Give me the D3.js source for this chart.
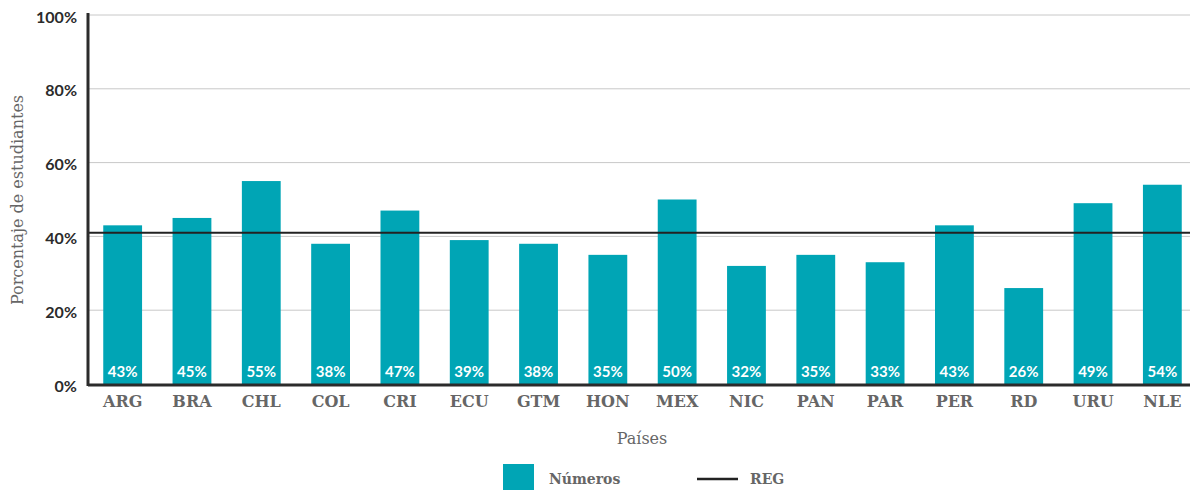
<!DOCTYPE html>
<html lang="es">
  <head>
    <meta charset="UTF-8">
    <title>Porcentaje de estudiantes por país</title>
    <script src="https://d3js.org/d3.v7.min.js"></script>
    <style>
      body { margin: 0; background: #fff; }
      svg { display: block; }
    </style>
  </head>
  <body>

<script>
  const countries = ["ARG","BRA","CHL","COL","CRI","ECU","GTM","HON","MEX","NIC","PAN","PAR","PER","RD","URU","NLE"];
  const values = [43, 45, 55, 38, 47, 39, 38, 35, 50, 32, 35, 33, 43, 26, 49, 54];
  const regValue = 41;
  const yTicks = [0, 20, 40, 60, 80, 100];

  const w = 1190;
  const h = 490;
  const plotLeft = 88, plotRight = 1197, plotTop = 15, plotBottom = 384;
  const barColor = "#00a5b5";

  const xScale = d3.scaleBand()
                   .domain(countries)
                   .range([plotLeft, plotRight])
                   .paddingInner(0.44)
                   .paddingOuter(0.22);

  const yScale = d3.scaleLinear()
                   .domain([0, 100])
                   .range([plotBottom, plotTop]);

  const svg = d3.select("body")
                .append("svg")
                .attr("width", w)
                .attr("height", h);

  // gridlines
  svg.append("g")
     .selectAll("line")
     .data(yTicks.filter(d => d > 0))
     .enter()
     .append("line")
     .attr("x1", plotLeft)
     .attr("x2", w)
     .attr("y1", d => yScale(d))
     .attr("y2", d => yScale(d))
     .attr("stroke", "#c8c8c8")
     .attr("stroke-width", 1);

  // y tick labels
  const yAxis = d3.axisLeft(yScale)
                  .tickValues(yTicks)
                  .tickFormat(d => d + "%")
                  .tickSize(0)
                  .tickPadding(11);
  const gy = svg.append("g")
     .attr("transform", `translate(${plotLeft},2)`)
     .call(yAxis);
  gy.select(".domain").remove();
  gy.selectAll("text")
    .attr("font-family", "Lato, sans-serif")
    .attr("font-weight", "bold")
    .attr("font-size", 16)
    .attr("fill", "#2b2b2b");

  // bars
  svg.selectAll("rect.bar")
     .data(values)
     .enter()
     .append("rect")
     .attr("class", "bar")
     .attr("x", (d, i) => xScale(countries[i]))
     .attr("y", d => yScale(d))
     .attr("width", xScale.bandwidth())
     .attr("height", d => yScale(0) - yScale(d))
     .attr("fill", barColor);

  // value labels
  svg.selectAll("text.val")
     .data(values)
     .enter()
     .append("text")
     .attr("class", "val")
     .attr("x", (d, i) => xScale(countries[i]) + xScale.bandwidth() / 2)
     .attr("y", yScale(0) - 7)
     .attr("text-anchor", "middle")
     .attr("font-family", "Lato, sans-serif")
     .attr("font-weight", "bold")
     .attr("font-size", 15)
     .attr("fill", "#fff")
     .text(d => d + "%");

  // REG line
  svg.append("line")
     .attr("x1", plotLeft)
     .attr("x2", w)
     .attr("y1", yScale(regValue))
     .attr("y2", yScale(regValue))
     .attr("stroke", "#222")
     .attr("stroke-width", 2);

  // x axis
  const xAxis = d3.axisBottom(xScale).tickSize(0).tickPadding(12);
  const gx = svg.append("g")
     .attr("transform", `translate(0,${plotBottom})`)
     .call(xAxis);
  gx.select(".domain").remove();
  gx.selectAll("text")
    .attr("font-family", "'DejaVu Serif', serif")
    .attr("font-weight", "bold")
    .attr("font-size", 16)
    .attr("fill", "#666");

  // axis lines
  svg.append("line")
     .attr("x1", plotLeft).attr("x2", w)
     .attr("y1", plotBottom + 1).attr("y2", plotBottom + 1)
     .attr("stroke", "#2b2b2b").attr("stroke-width", 3);
  svg.append("line")
     .attr("x1", plotLeft).attr("x2", plotLeft)
     .attr("y1", plotTop - 2).attr("y2", plotBottom + 2)
     .attr("stroke", "#2b2b2b").attr("stroke-width", 3);

  // axis titles
  svg.append("text")
     .attr("x", 642).attr("y", 444)
     .attr("text-anchor", "middle")
     .attr("font-family", "'DejaVu Serif', serif")
     .attr("font-size", 16)
     .attr("fill", "#666")
     .text("Países");

  svg.append("text")
     .attr("transform", "translate(23,200) rotate(-90)")
     .attr("text-anchor", "middle")
     .attr("font-family", "'DejaVu Serif', serif")
     .attr("font-size", 16)
     .attr("fill", "#666")
     .text("Porcentaje de estudiantes");

  // legend
  const legend = svg.append("g");
  legend.append("rect")
        .attr("x", 503).attr("y", 464)
        .attr("width", 31).attr("height", 26)
        .attr("fill", barColor);
  legend.append("text")
        .attr("x", 549).attr("y", 484)
        .attr("font-family", "'DejaVu Serif', serif")
        .attr("font-weight", "bold")
        .attr("font-size", 14)
        .attr("fill", "#666")
        .text("Números");
  legend.append("line")
        .attr("x1", 697).attr("x2", 738)
        .attr("y1", 479).attr("y2", 479)
        .attr("stroke", "#222").attr("stroke-width", 2.5);
  legend.append("text")
        .attr("x", 750).attr("y", 484)
        .attr("font-family", "'DejaVu Serif', serif")
        .attr("font-weight", "bold")
        .attr("font-size", 14)
        .attr("fill", "#666")
        .text("REG");
</script>

  </body>
</html>
